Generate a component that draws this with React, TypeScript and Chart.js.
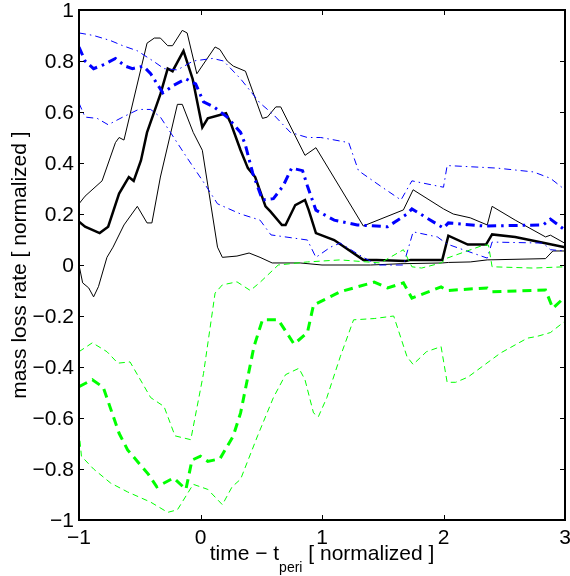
import React, { useEffect, useRef } from "react";
import { Chart, registerables } from "chart.js";

Chart.register(...registerables);

const xTicks = [-1, 0, 1, 2, 3];
const yTicks = [-1, -0.8, -0.6, -0.4, -0.2, 0, 0.2, 0.4, 0.6, 0.8, 1];

const blackMeanX = [-1, -0.95, -0.83, -0.76, -0.67, -0.59, -0.55, -0.49, -0.44, -0.33, -0.27, -0.23, -0.14, -0.065, 0.015, 0.06, 0.21, 0.25, 0.33, 0.39, 0.45, 0.535, 0.575, 0.67, 0.7, 0.78, 0.86, 0.89, 0.95, 1.1, 1.34, 1.45, 1.69, 1.73, 1.99, 2.04, 2.2, 2.35, 2.4, 2.59, 2.82, 3.0];
const blackMeanY = [0.17, 0.15, 0.125, 0.15, 0.28, 0.345, 0.33, 0.41, 0.52, 0.67, 0.77, 0.76, 0.84, 0.73, 0.54, 0.575, 0.595, 0.555, 0.45, 0.38, 0.345, 0.23, 0.21, 0.157, 0.157, 0.235, 0.255, 0.216, 0.125, 0.098, 0.02, 0.02, 0.016, 0.02, 0.02, 0.115, 0.08, 0.08, 0.12, 0.11, 0.087, 0.07];

const blackUpperX = [-1, -0.95, -0.81, -0.7, -0.67, -0.63, -0.44, -0.38, -0.33, -0.27, -0.23, -0.15, -0.11, -0.03, 0.12, 0.16, 0.22, 0.27, 0.37, 0.51, 0.55, 0.62, 0.66, 0.86, 0.95, 1.34, 1.67, 1.75, 2.0, 2.08, 2.22, 2.36, 2.4, 2.59, 2.84, 2.88, 3.0];
const blackUpperY = [0.24, 0.27, 0.33, 0.48, 0.5, 0.49, 0.87, 0.89, 0.89, 0.86, 0.86, 0.92, 0.91, 0.75, 0.855, 0.845, 0.8, 0.78, 0.76, 0.575, 0.58, 0.62, 0.62, 0.43, 0.46, 0.153, 0.216, 0.295, 0.22, 0.2, 0.185, 0.157, 0.23, 0.176, 0.11, 0.117, 0.085];

const blackLowerX = [-1, -0.97, -0.92, -0.88, -0.84, -0.77, -0.72, -0.63, -0.52, -0.44, -0.4, -0.33, -0.19, -0.15, -0.06, 0.015, 0.14, 0.18, 0.3, 0.4, 0.49, 0.59, 0.82, 1.0, 1.4, 1.65, 1.99, 2.04, 2.22, 2.36, 2.84, 2.9, 3.0];
const blackLowerY = [0.0, -0.07, -0.09, -0.125, -0.085, 0.03, 0.07, 0.157, 0.23, 0.165, 0.165, 0.345, 0.63, 0.63, 0.52, 0.45, 0.07, 0.03, 0.035, 0.047, 0.03, 0.008, 0.008, 0.0, 0.0, 0.005, 0.008, 0.01, 0.012, 0.02, 0.025, 0.055, 0.055];

const blueMeanX = [-1, -0.95, -0.88, -0.8, -0.7, -0.62, -0.56, -0.47, -0.41, -0.31, -0.22, -0.12, -0.04, 0.025, 0.11, 0.22, 0.33, 0.37, 0.43, 0.51, 0.6, 0.68, 0.75, 0.84, 0.88, 0.95, 1.1, 1.29, 1.54, 1.7, 1.74, 2.0, 2.04, 2.33, 2.82, 2.88, 3.0];
const blueMeanY = [0.855, 0.8, 0.77, 0.785, 0.81, 0.78, 0.77, 0.78, 0.75, 0.675, 0.705, 0.73, 0.71, 0.64, 0.62, 0.58, 0.52, 0.47, 0.36, 0.255, 0.26, 0.31, 0.38, 0.37, 0.31, 0.215, 0.176, 0.157, 0.15, 0.2, 0.22, 0.145, 0.165, 0.153, 0.157, 0.18, 0.137];

const blueUpperX = [-1, -0.88, -0.74, -0.64, -0.52, -0.39, -0.3, -0.19, -0.06, 0.1, 0.19, 0.33, 0.49, 0.6, 0.74, 0.88, 0.99, 1.22, 1.3, 1.48, 1.65, 1.74, 2.0, 2.03, 2.44, 2.74, 2.88, 3.0];
const blueUpperY = [0.91, 0.9, 0.88, 0.86, 0.84, 0.8, 0.77, 0.765, 0.8, 0.81, 0.8, 0.73, 0.635, 0.59, 0.52, 0.5, 0.5, 0.48, 0.37, 0.31, 0.255, 0.33, 0.305, 0.39, 0.38, 0.365, 0.34, 0.295];

const blueLowerX = [-1, -0.95, -0.85, -0.76, -0.64, -0.51, -0.41, -0.33, -0.22, -0.11, 0.025, 0.14, 0.33, 0.49, 0.58, 0.88, 0.95, 1.07, 1.15, 1.34, 1.46, 1.67, 1.75, 1.95, 2.03, 2.36, 2.4, 2.82, 2.88, 3.0];
const blueLowerY = [0.635, 0.58, 0.575, 0.55, 0.58, 0.61, 0.61, 0.58, 0.5, 0.42, 0.325, 0.24, 0.2, 0.176, 0.118, 0.098, 0.03, 0.07, 0.086, 0.03, 0.0, 0.0, 0.13, 0.11, 0.082, 0.027, 0.09, 0.086, 0.06, 0.055];

const greenMeanX = [-1, -0.89, -0.8, -0.67, -0.6, -0.43, -0.36, -0.22, -0.12, -0.07, 0.0, 0.06, 0.16, 0.27, 0.33, 0.44, 0.51, 0.64, 0.77, 0.88, 0.93, 1.15, 1.43, 1.54, 1.67, 1.74, 1.98, 2.03, 2.36, 2.4, 2.84, 2.9, 3.0];
const greenMeanY = [-0.477, -0.45, -0.48, -0.66, -0.725, -0.82, -0.87, -0.835, -0.88, -0.765, -0.75, -0.77, -0.76, -0.67, -0.58, -0.32, -0.215, -0.215, -0.31, -0.265, -0.157, -0.105, -0.067, -0.09, -0.07, -0.13, -0.086, -0.1, -0.09, -0.105, -0.098, -0.17, -0.125];

const greenUpperX = [-1, -0.89, -0.77, -0.68, -0.58, -0.41, -0.3, -0.21, -0.08, 0.025, 0.12, 0.18, 0.3, 0.41, 0.49, 0.64, 0.88, 1.15, 1.37, 1.48, 1.67, 1.74, 1.82, 1.98, 2.03, 2.33, 2.37, 2.4, 2.74, 3.0];
const greenUpperY = [-0.34, -0.305, -0.34, -0.385, -0.38, -0.52, -0.555, -0.67, -0.685, -0.425, -0.11, -0.078, -0.066, -0.1, -0.068, 0.0, 0.012, 0.02, 0.012, 0.008, 0.06, -0.007, -0.012, 0.008, 0.027, 0.078, 0.078, -0.007, -0.012, -0.007];

const greenLowerX = [-1, -0.98, -0.88, -0.74, -0.6, -0.41, -0.27, -0.19, -0.06, 0.06, 0.18, 0.26, 0.33, 0.47, 0.6, 0.7, 0.81, 0.86, 0.93, 0.97, 1.04, 1.15, 1.26, 1.43, 1.59, 1.7, 1.75, 1.86, 1.98, 2.03, 2.1, 2.2, 2.47, 2.69, 2.77, 2.88, 3.0];
const greenLowerY = [-0.65, -0.75, -0.8, -0.855, -0.89, -0.93, -0.97, -0.96, -0.86, -0.88, -0.94, -0.87, -0.84, -0.67, -0.52, -0.43, -0.405, -0.45, -0.58, -0.595, -0.52, -0.36, -0.215, -0.21, -0.2, -0.36, -0.39, -0.34, -0.32, -0.46, -0.46, -0.44, -0.345, -0.287, -0.28, -0.265, -0.22];

const FONT = "'Liberation Sans', Arial, Helvetica, sans-serif";
const BLUE = "#0000ff";
const GREEN = "#00ff00";

function pts(xs: number[], ys: number[]) {
  return xs.map((x, i) => ({ x, y: ys[i] }));
}

function fmt(v: number) {
  const s = Math.abs(v) < 1e-9 ? "0" : String(Math.round(v * 10) / 10);
  return s.replace("-", "\u2212");
}

const framePlugin = {
  id: "matlabFrame",
  afterDraw(chart: any) {
    const { ctx, chartArea: a } = chart;
    const xs = chart.scales.x;
    const ys = chart.scales.y;
    ctx.save();
    ctx.strokeStyle = "#000";
    ctx.lineWidth = 2;
    ctx.strokeRect(a.left, a.top, a.right - a.left, a.bottom - a.top);
    ctx.lineWidth = 1;
    const L = 5;
    ctx.beginPath();
    xTicks.forEach((t) => {
      const px = Math.round(xs.getPixelForValue(t)) + 0.5;
      ctx.moveTo(px, a.bottom);
      ctx.lineTo(px, a.bottom - L);
      ctx.moveTo(px, a.top);
      ctx.lineTo(px, a.top + L);
    });
    yTicks.forEach((t) => {
      const py = Math.round(ys.getPixelForValue(t)) + 0.5;
      ctx.moveTo(a.left, py);
      ctx.lineTo(a.left + L, py);
      ctx.moveTo(a.right, py);
      ctx.lineTo(a.right - L, py);
    });
    ctx.stroke();

    const big = "21px " + FONT;
    const small = "14px " + FONT;
    ctx.fillStyle = "#000";

    // tick labels
    ctx.font = big;
    ctx.textBaseline = "middle";
    ctx.textAlign = "right";
    yTicks.forEach((t) => {
      ctx.fillText(fmt(t), a.left - 5, ys.getPixelForValue(t) + 1);
    });
    ctx.textAlign = "center";
    xTicks.forEach((t) => {
      ctx.fillText(fmt(t), xs.getPixelForValue(t), a.bottom + 18);
    });

    // x-axis title with subscript
    ctx.textBaseline = "alphabetic";
    const p1 = "time \u2212 t";
    const p2 = "peri";
    const p3 = " [ normalized ]";
    ctx.font = big;
    const w1 = ctx.measureText(p1).width;
    const w3 = ctx.measureText(p3).width;
    ctx.font = small;
    const w2 = ctx.measureText(p2).width;
    const total = w1 + w2 + w3;
    const cx = xs.getPixelForValue(1);
    const x0 = cx - total / 2;
    const base = 560;
    ctx.textAlign = "left";
    ctx.font = big;
    ctx.fillText(p1, x0, base);
    ctx.font = small;
    ctx.fillText(p2, x0 + w1, base + 12);
    ctx.font = big;
    ctx.fillText(p3, x0 + w1 + w2, base);

    // y-axis title
    ctx.save();
    ctx.translate(26, (a.top + a.bottom) / 2);
    ctx.rotate(-Math.PI / 2);
    ctx.textAlign = "center";
    ctx.textBaseline = "alphabetic";
    ctx.font = big;
    ctx.fillText("mass loss rate [ normalized ]", 0, 0);
    ctx.restore();
    ctx.restore();
  },
};

export default function App() {
  const ref = useRef<HTMLCanvasElement>(null);
  useEffect(() => {
    if (!ref.current) return;
    const mk = (label: string, xs: number[], ys: number[], color: string, width: number, dash: number[]) => ({
      label,
      data: pts(xs, ys),
      borderColor: color,
      backgroundColor: color,
      borderWidth: width,
      borderDash: dash,
      pointRadius: 0,
      tension: 0,
      fill: false,
    });
    const chart = new Chart(ref.current, {
      type: "line",
      data: {
        datasets: [
          mk("greenUpper", greenUpperX, greenUpperY, GREEN, 1, [6, 4]),
          mk("greenLower", greenLowerX, greenLowerY, GREEN, 1, [6, 4]),
          mk("greenMean", greenMeanX, greenMeanY, GREEN, 3, [9, 6]),
          mk("blueUpper", blueUpperX, blueUpperY, BLUE, 1, [7, 4, 1.5, 4]),
          mk("blueLower", blueLowerX, blueLowerY, BLUE, 1, [7, 4, 1.5, 4]),
          mk("blueMean", blueMeanX, blueMeanY, BLUE, 3, [9, 5, 2.5, 5]),
          mk("blackUpper", blackUpperX, blackUpperY, "#000", 1, []),
          mk("blackLower", blackLowerX, blackLowerY, "#000", 1, []),
          mk("blackMean", blackMeanX, blackMeanY, "#000", 2.5, []),
        ],
      },
      options: {
        responsive: false,
        animation: false,
        parsing: false as any,
        layout: { padding: { top: 10, right: 5, left: 0, bottom: 0 } },
        plugins: { legend: { display: false }, tooltip: { enabled: false } },
        scales: {
          x: {
            type: "linear",
            min: -1,
            max: 3,
            afterFit: (s: any) => { s.height = 56; s.paddingLeft = 0; s.paddingRight = 0; },
            grid: { display: false, drawTicks: false },
            border: { display: false },
            ticks: { display: false },
          },
          y: {
            type: "linear",
            min: -1,
            max: 1,
            afterFit: (s: any) => { s.width = 79; s.paddingTop = 0; s.paddingBottom = 0; },
            grid: { display: false, drawTicks: false },
            border: { display: false },
            ticks: { display: false },
          },
        },
      },
      plugins: [framePlugin],
    });
    return () => chart.destroy();
  }, []);
  return (
    <div style={{ position: "absolute", left: 0, top: 0, width: 570, height: 576, background: "#fff" }}>
      <canvas ref={ref} width={570} height={576} style={{ display: "block" }} />
    </div>
  );
}
